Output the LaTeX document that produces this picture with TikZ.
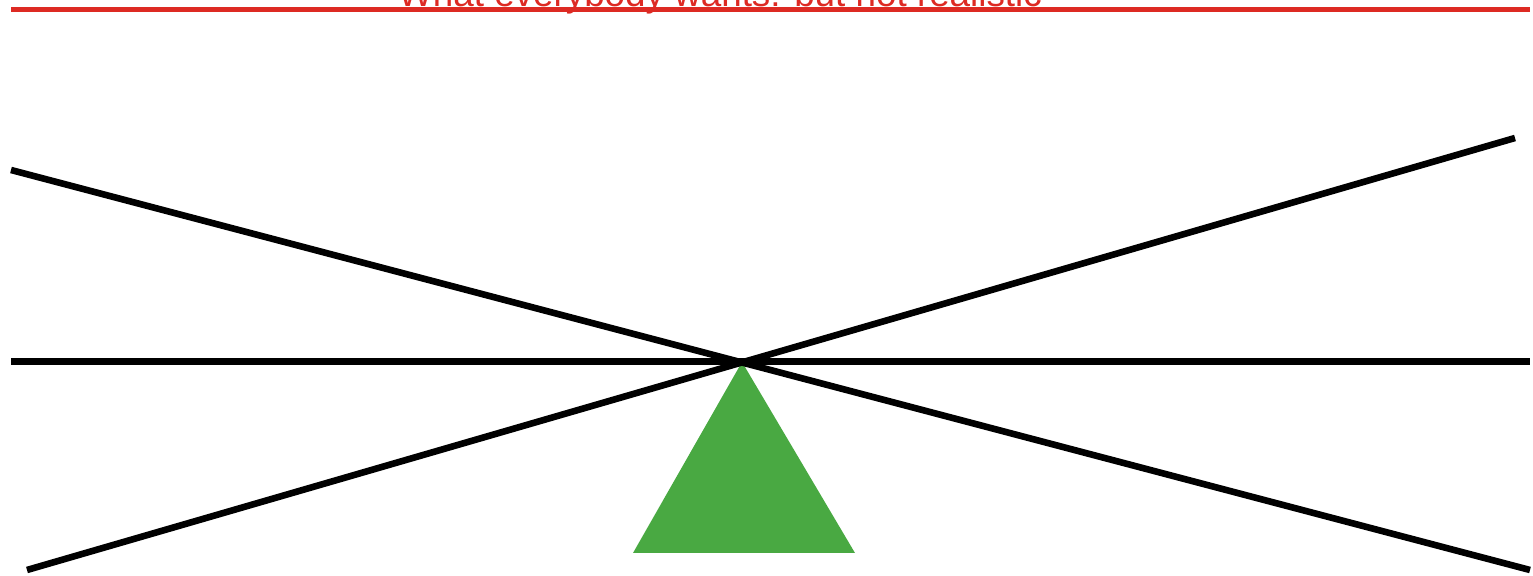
\documentclass[tikz,border=0pt]{standalone}
\usepackage{fontspec}
\setmainfont{Liberation Sans}
\definecolor{warnred}{HTML}{DD2A23}
\definecolor{pivotgreen}{HTML}{49A942}
\begin{document}
\begin{tikzpicture}[x=0.5pt, y=-0.5pt]
\useasboundingbox (0,0) rectangle (1533,576);
\clip (0,0) rectangle (1533,576);
\coordinate (pivot) at (742,362);
\fill[pivotgreen] (pivot) -- (855,553) -- (633,553) -- cycle;
\draw[black, line width=3.3pt] (11,361.5) -- (1530,361.5);
\draw[black, line width=3.3pt] (11,170) -- (1530,570);
\draw[black, line width=3.3pt] (27,570) -- (1515,138);
\node[warnred, anchor=base, inner sep=0pt, font=\fontsize{18.4}{20}\selectfont] (wish) at (720,7) {What everybody wants: but not realistic};
\draw[warnred, line width=2.5pt] (11,9.5) -- (1530,9.5);
\end{tikzpicture}
\end{document}
